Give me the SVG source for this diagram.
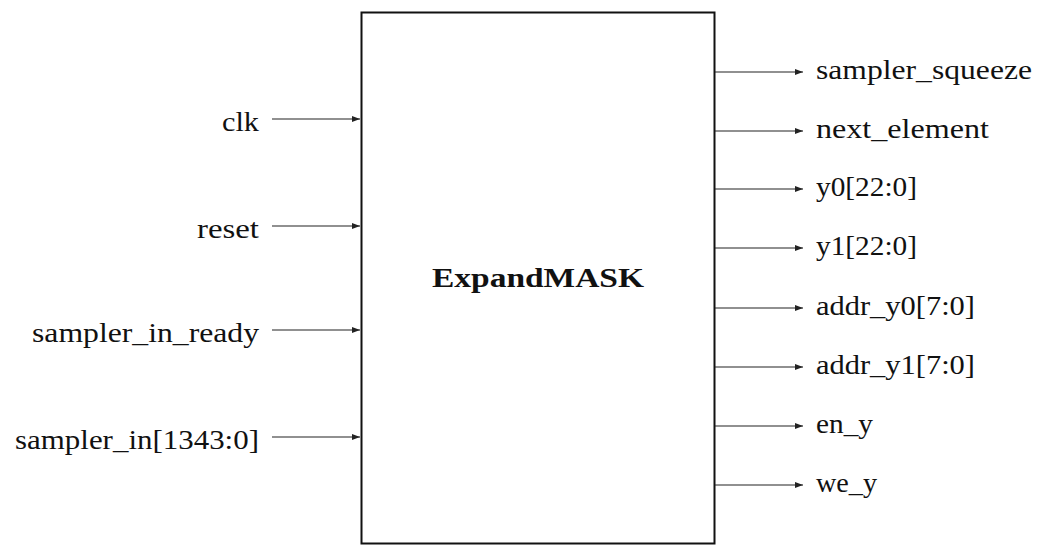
<svg xmlns="http://www.w3.org/2000/svg" width="1061" height="555" viewBox="0 0 1061 555">
  <style>
    .lbl { font-family: "Liberation Serif", "DejaVu Serif", serif; font-size: 27px; fill: #111; }
    .l { text-anchor: end; }
    .title { font-family: "Liberation Serif", "DejaVu Serif", serif; font-size: 27px; font-weight: bold; fill: #111; text-anchor: middle; }
    .wire { stroke: #222; stroke-width: 1.2; fill: none; marker-end: url(#arr); }
  </style>
  <defs>
    <marker id="arr" viewBox="0 0 8 6" refX="8" refY="3" markerWidth="8" markerHeight="6" markerUnits="userSpaceOnUse" orient="auto">
      <path d="M0,0 L8,3 L0,6 Z" fill="#222"/>
    </marker>
  </defs>
  <rect width="1061" height="555" fill="#fff"/>

  <g id="expandmask">
    <rect x="361.5" y="12.5" width="353" height="531" fill="#fff" stroke="#111" stroke-width="2"/>
    <text class="title" x="538" y="287" textLength="212" lengthAdjust="spacingAndGlyphs">ExpandMASK</text>
  </g>

  <g id="inputs">
    <text class="lbl l" x="259" y="131" textLength="37" lengthAdjust="spacingAndGlyphs">clk</text>
    <text class="lbl l" x="259" y="238" textLength="62" lengthAdjust="spacingAndGlyphs">reset</text>
    <text class="lbl l" x="259" y="342" textLength="227" lengthAdjust="spacingAndGlyphs">sampler_in_ready</text>
    <text class="lbl l" x="259" y="449" textLength="244" lengthAdjust="spacingAndGlyphs">sampler_in[1343:0]</text>
  </g>

  <g id="outputs">
    <text class="lbl" x="816" y="79" textLength="216" lengthAdjust="spacingAndGlyphs">sampler_squeeze</text>
    <text class="lbl" x="816" y="138" textLength="173" lengthAdjust="spacingAndGlyphs">next_element</text>
    <text class="lbl" x="816" y="196" textLength="101" lengthAdjust="spacingAndGlyphs">y0[22:0]</text>
    <text class="lbl" x="816" y="255" textLength="101" lengthAdjust="spacingAndGlyphs">y1[22:0]</text>
    <text class="lbl" x="816" y="315" textLength="159" lengthAdjust="spacingAndGlyphs">addr_y0[7:0]</text>
    <text class="lbl" x="816" y="374" textLength="159" lengthAdjust="spacingAndGlyphs">addr_y1[7:0]</text>
    <text class="lbl" x="816" y="433" textLength="57" lengthAdjust="spacingAndGlyphs">en_y</text>
    <text class="lbl" x="816" y="492" textLength="61" lengthAdjust="spacingAndGlyphs">we_y</text>
  </g>

  <g id="connectors">
    <line class="wire" x1="272" y1="119" x2="360" y2="119"/>
    <line class="wire" x1="272" y1="226" x2="360" y2="226"/>
    <line class="wire" x1="272" y1="330" x2="360" y2="330"/>
    <line class="wire" x1="272" y1="437" x2="360" y2="437"/>
    <line class="wire" x1="715" y1="72" x2="803" y2="72"/>
    <line class="wire" x1="715" y1="131" x2="803" y2="131"/>
    <line class="wire" x1="715" y1="189" x2="803" y2="189"/>
    <line class="wire" x1="715" y1="248" x2="803" y2="248"/>
    <line class="wire" x1="715" y1="308" x2="803" y2="308"/>
    <line class="wire" x1="715" y1="367" x2="803" y2="367"/>
    <line class="wire" x1="715" y1="426" x2="803" y2="426"/>
    <line class="wire" x1="715" y1="485" x2="803" y2="485"/>
  </g>
</svg>
